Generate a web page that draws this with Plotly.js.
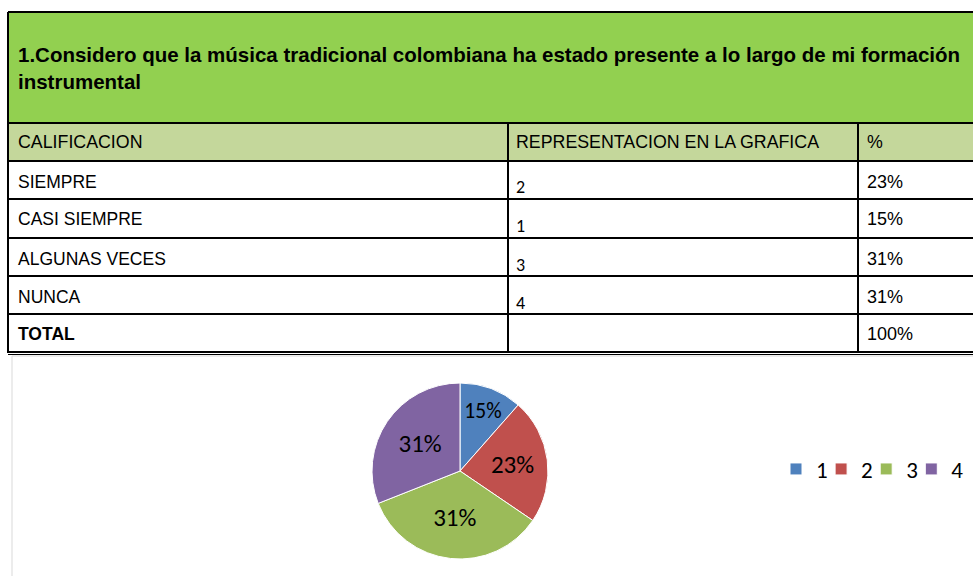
<!DOCTYPE html>
<html>
<head>
<meta charset="utf-8">
<script src="https://cdn.plot.ly/plotly-3.0.1.min.js"></script>
<style>html,body{margin:0;padding:0;background:#fff;overflow:hidden}#chart{width:973px;height:576px}</style>
</head>
<body>
<div id="chart"></div>
<script>
// ---- data ----
const questionTitle = "1.Considero que la música tradicional colombiana ha estado presente a lo largo de mi formación<br>instrumental";
const headerLabels = ["CALIFICACION", "REPRESENTACION EN LA GRAFICA", "%"];
const categories = ["SIEMPRE", "CASI SIEMPRE", "ALGUNAS VECES", "NUNCA"];
const graphCodes = ["2", "1", "3", "4"];
const percentTexts = ["23%", "15%", "31%", "31%"];
const totalLabel = "TOTAL";
const totalPercent = "100%";
// pie (as drawn in the picture)
const pieLabels = ["1", "2", "3", "4"];
const pieValues = [11.5, 23, 34.5, 31];
const pieTexts = ["15%", "23%", "31%", "31%"];
const pieColors = ["#4f81bd", "#c0504d", "#9bbb59", "#8064a2"];

// ---- layout helpers ----
const W = 973, H = 576;
const X = px => px / W;
const Y = py => 1 - py / H;

const shapes = [];
const annotations = [];
function rect(x0, y0, x1, y1, fill, lineColor, lw) {
  shapes.push({type: "rect", xref: "paper", yref: "paper", x0: X(x0), x1: X(x1), y0: Y(y1), y1: Y(y0),
    fillcolor: fill, line: {color: lineColor, width: lw}, layer: "below"});
}
function line(x0, y0, x1, y1, color, lw) {
  shapes.push({type: "line", xref: "paper", yref: "paper", x0: X(x0), x1: X(x1), y0: Y(y0), y1: Y(y1),
    line: {color: color, width: lw}, layer: "above"});
}
function text(t, x, y, size, family, bold) {
  annotations.push({text: bold ? "<b>" + t + "</b>" : t, xref: "paper", yref: "paper", x: X(x), y: Y(y),
    xanchor: "left", yanchor: "middle", showarrow: false, align: "left", borderpad: 0,
    font: {size: size, family: family, color: "#000"}});
}

const ARIAL = "Liberation Sans, Arial, sans-serif";
const CAL = "Carlito, Calibri, Lato, sans-serif";

// chart area box
rect(12, 356, 1000, 600, "#ffffff", "#d9d9d9", 1);
// title band
rect(8, 12, 1000, 123, "#92d050", "rgba(0,0,0,0)", 0);
rect(8, 123, 1000, 161, "#c4d79b", "rgba(0,0,0,0)", 0);
// grid lines
const rowY = [161, 199, 238, 276, 314, 352];
line(8, 12, 1000, 12, "#000", 2);
line(8, 123, 1000, 123, "#000", 2);
rowY.forEach(y => line(8, y, 1000, y, "#000", 2));
line(8, 354.5, 1000, 354.5, "#000", 1);
line(8, 12, 8, 353, "#000", 2);
line(508, 123, 508, 353, "#000", 2);
line(858, 123, 858, 353, "#000", 2);

// texts
annotations.push({text: "<b>" + questionTitle + "</b>", xref: "paper", yref: "paper", x: X(17), y: Y(68),
  xanchor: "left", yanchor: "middle", showarrow: false, align: "left", borderpad: 0,
  font: {size: 20.5, family: ARIAL, color: "#000"}});
headerLabels.forEach((h, i) => text(h, [17, 515, 866][i], 142, 17.8, ARIAL, false));
categories.forEach((c, i) => {
  const top = rowY[i];
  text(c, 17, top + 20.5, 17.5, ARIAL, false);
  text(graphCodes[i], 515, top + 26.5, 18, CAL, false);
  text(percentTexts[i], 866, top + 20.5, 18, ARIAL, false);
});
text(totalLabel, 17, 334, 17.5, ARIAL, true);
text(totalPercent, 866, 334, 18, ARIAL, false);

const trace = {
  type: "pie",
  labels: pieLabels,
  values: pieValues,
  text: pieTexts,
  textinfo: "text",
  textposition: "inside",
  insidetextorientation: "horizontal",
  sort: false,
  direction: "clockwise",
  rotation: 0,
  marker: {colors: pieColors, line: {color: "#ffffff", width: 1}},
  textfont: {size: 25, family: CAL, color: "#000"},
  domain: {x: [X(372), X(548)], y: [Y(559), Y(383)]},
  hoverinfo: "label+text"
};

const layout = {
  width: W, height: H,
  margin: {l: 0, r: 0, t: 0, b: 0, autoexpand: false},
  paper_bgcolor: "#ffffff",
  plot_bgcolor: "#ffffff",
  showlegend: true,
  legend: {orientation: "h", x: X(776), y: Y(469), xanchor: "left", yanchor: "middle",
    font: {size: 23, family: CAL, color: "#000"}, itemwidth: 30,
    entrywidth: 0.1, entrywidthmode: "pixels",
    bgcolor: "rgba(0,0,0,0)"},
  shapes: shapes,
  annotations: annotations
};

Plotly.newPlot("chart", [trace], layout, {displayModeBar: false, staticPlot: true}).then(gd => {
  // let the last legend label overflow its (tight) entry box instead of being clipped
  gd.querySelectorAll("defs clipPath[id^='legend'] rect").forEach(r => {
    const w = parseFloat(r.getAttribute("width")) || 0;
    r.setAttribute("width", w + 30);
  });
});
</script>
</body>
</html>
